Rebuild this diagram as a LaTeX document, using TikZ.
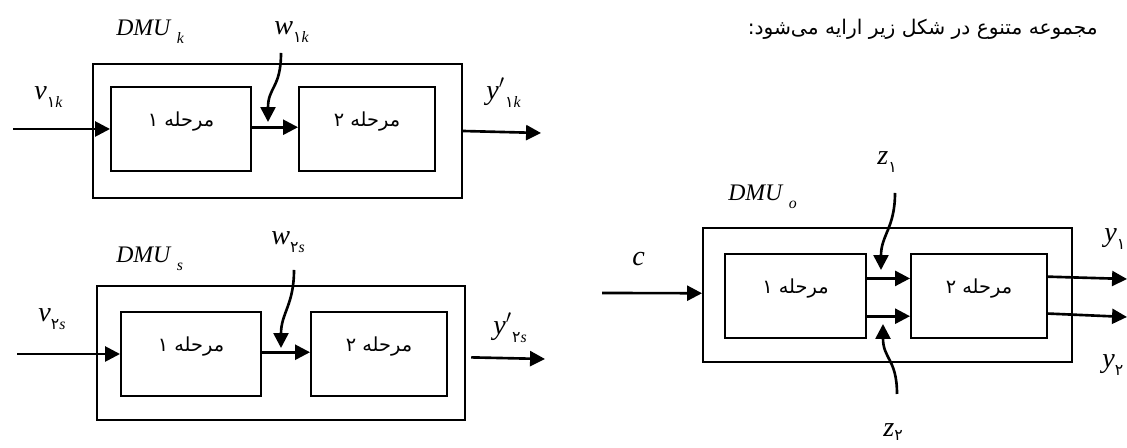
\documentclass[tikz,border=0pt]{standalone}
\usepackage{fontspec}
\setmainfont{Liberation Serif}
\newfontfamily\fa[Script=Arabic]{DejaVu Sans}
\TeXXeTstate=1
\usetikzlibrary{arrows.meta,fit}
\newcommand{\sub}[1]{\raisebox{-4pt}{\fontsize{9}{9}\selectfont #1}}
\newcommand{\fd}[1]{{\fa\upshape #1}}
\begin{document}
\begin{tikzpicture}[x=0.02cm, y=-0.02cm,
    unit/.style={draw, line width=1.1pt, inner sep=0pt},
    stage/.style={draw, line width=1.1pt, inner sep=0pt},
    flow/.style={line width=1.5pt, -{Triangle[length=8.5pt,width=8.5pt]}},
    lab/.style={inner sep=0pt, anchor=base west, font=\fontsize{16}{16}\selectfont},
    dmu/.style={lab, font=\fontsize{13.5}{13.5}\selectfont},
    fatext/.style={inner sep=0pt, font=\fa\fontsize{11}{11}\selectfont}]
    \useasboundingbox (0,0) rectangle (1127,448);
    \node[fatext, font=\fa\fontsize{11.5}{11.5}\selectfont, anchor=base east] (title) at (1098,35) {\beginR مجموعه متنوع در شکل زیر ارایه می^^^^200cشود:\endR};
    % DMU k
    \node[unit, fit={(93,64) (462,198)}] (K) {};
    \node[stage, fit={(111,87) (251,171)}] (k1) {};
    \node[stage, fit={(299,87) (435,171)}] (k2) {};
    \node[fatext] (k1t) at ([yshift=4pt]k1.center) {\beginR مرحله ۱\endR};
    \node[fatext] (k2t) at ([yshift=4pt]k2.center) {\beginR مرحله ۲\endR};
    \coordinate (kin) at (13,129);
    \coordinate (kout) at (541,133);
    \coordinate (kwtop) at (281,53);
    \coordinate (kwtip) at (268,122);
    \draw[flow] (kin) -- (k1.west);
    \draw[flow] ([yshift=1pt]k1.east) -- ([yshift=1pt]k2.west);
    \draw[flow] (K.east) -- (kout);
    \draw[flow] (kwtop) .. controls +(0,35) and +(0,-35) .. (kwtip);
    \node[dmu] (dmuk) at (116,36) {\textit{DMU}\hspace{3pt}\sub{\textit{k}}};
    \node[lab] (wk) at (274,35) {\textit{w}\sub{\fd{۱}\textit{k}}};
    \node[lab] (vk) at (34,100) {\textit{v}\sub{\fd{۱}\textit{k}}};
    \node[lab] (yk) at (486,100) {\textit{y}$'$\sub{\fd{۱}\textit{k}}};
    % DMU s
    \node[unit, fit={(97,286) (465,420)}] (S) {};
    \node[stage, fit={(121,312) (261,396)}] (s1) {};
    \node[stage, fit={(311,312) (447,396)}] (s2) {};
    \node[fatext] (s1t) at ([yshift=4pt]s1.center) {\beginR مرحله ۱\endR};
    \node[fatext] (s2t) at ([yshift=4pt]s2.center) {\beginR مرحله ۲\endR};
    \coordinate (sin) at (17,354);
    \coordinate (sout) at (545,359);
    \coordinate (swtop) at (294,270);
    \coordinate (swtip) at (281,348);
    \draw[flow] (sin) -- (s1.west);
    \draw[flow] ([yshift=1pt]s1.east) -- ([yshift=1pt]s2.west);
    \draw[flow] ([xshift=3pt,yshift=-2.5pt]S.east) -- (sout);
    \draw[flow] (swtop) .. controls +(0,35) and +(0,-35) .. (swtip);
    \node[dmu] (dmus) at (116,263) {\textit{DMU}\hspace{3pt}\sub{\textit{s}}};
    \node[lab] (ws) at (271,245) {\textit{w}\sub{\fd{۲}\textit{s}}};
    \node[lab] (vs) at (38,322) {\textit{v}\sub{\fd{۲}\textit{s}}};
    \node[lab] (ys) at (493,335) {\textit{y}$'$\sub{\fd{۲}\textit{s}}};
    % DMU o
    \node[unit, fit={(703,228) (1072,362)}] (O) {};
    \node[stage, fit={(725,254) (866,338)}] (o1) {};
    \node[stage, fit={(911,254) (1047,338)}] (o2) {};
    \node[fatext] (o1t) at ([yshift=4pt]o1.center) {\beginR مرحله ۱\endR};
    \node[fatext] (o2t) at ([yshift=4pt]o2.center) {\beginR مرحله ۲\endR};
    \coordinate (cin) at (602,293);
    \coordinate (oy1) at (1127,279);
    \coordinate (oy2) at (1127,317);
    \coordinate (z1top) at (895,193);
    \coordinate (z1tip) at (881,270);
    \coordinate (z2bot) at (897,394);
    \coordinate (z2tip) at (883,324);
    \draw[flow] (cin) -- ([yshift=1pt]O.west);
    \draw[flow] ([yshift=10pt]o1.east) -- ([yshift=10pt]o2.west);
    \draw[flow] ([yshift=-11.5pt]o1.east) -- ([yshift=-11.5pt]o2.west);
    \draw[flow] ([yshift=11pt]o2.east) -- (oy1);
    \draw[flow] ([yshift=-10pt]o2.east) -- (oy2);
    \draw[flow] (z1top) .. controls +(0,35) and +(0,-35) .. (z1tip);
    \draw[flow] (z2bot) .. controls +(0,-35) and +(0,35) .. (z2tip);
    \node[dmu] (dmuo) at (728,201) {\textit{DMU}\hspace{3pt}\sub{\textit{o}}};
    \node[lab] (cl) at (632,266) {\textit{c}};
    \node[lab] (z1) at (877,165) {\textit{z}\sub{\fd{۱}}};
    \node[lab] (z2) at (883,437) {\textit{z}\raisebox{-2pt}{\fontsize{9}{9}\selectfont\fd{۲}}};
    \node[lab] (y1) at (1104,242) {\textit{y}\sub{\fd{۱}}};
    \node[lab] (y2) at (1102,368) {\textit{y}\sub{\fd{۲}}};
\end{tikzpicture}
\end{document}
